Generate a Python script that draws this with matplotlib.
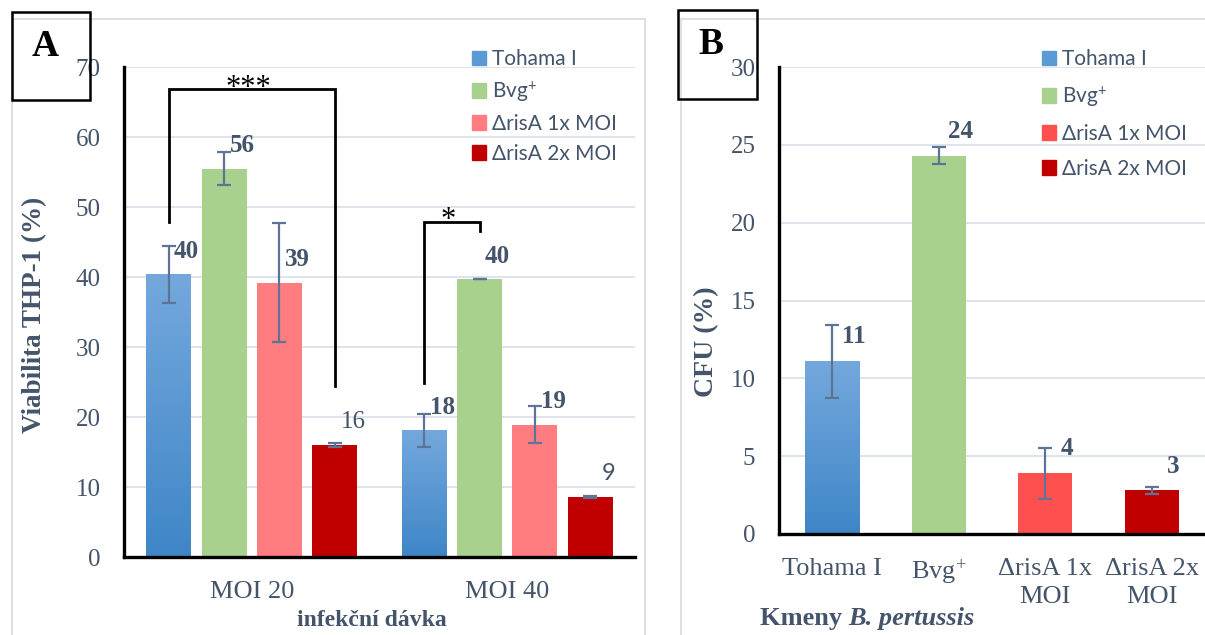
import numpy as np
import matplotlib
matplotlib.use("Agg")
import matplotlib.pyplot as plt
from matplotlib.patches import Rectangle, Patch
from matplotlib.colors import LinearSegmentedColormap

# --- data -------------------------------------------------------------
series = ["Tohama I", r"$\mathregular{Bvg^{+}}$", "ΔrisA 1x MOI", "ΔrisA 2x MOI"]
doses = ["MOI 20", "MOI 40"]
viab = [[40.4, 18.1], [55.5, 39.7], [39.2, 18.9], [16.0, 8.6]]
viab_err = [[4.05, 2.35], [2.4, 0.05], [8.5, 2.65], [0.3, 0.1]]
viab_labels = [["40", "18"], ["56", "40"], ["39", "19"], ["16", "9"]]

strains = ["Tohama I", r"$\mathregular{Bvg^{+}}$", "ΔrisA 1x\nMOI", "ΔrisA 2x\nMOI"]
cfu = [11.1, 24.3, 3.9, 2.8]
cfu_err = [2.35, 0.55, 1.65, 0.2]
cfu_labels = ["11", "24", "4", "3"]

# significance brackets: (group, series_a, series_b, top, bottom_a, bottom_b, text)
brackets = [(0, 0, 3, 66.8, 47.9, 24.4, "***"),
            (1, 0, 1, 47.9, 24.9, 46.6, "*")]

# --- style ------------------------------------------------------------
W, H = 1205, 635
txt_col = "#44546A"
err_col = "#5E7497"
grid_col = "#DCE1E9"
colors_a = ["#5B9BD5", "#A9D18E", "#FF7C80", "#C00000"]
colors_b = ["#5B9BD5", "#A9D18E", "#FF5050", "#C00000"]
blue_grad = LinearSegmentedColormap.from_list("bg", ["#3F86C7", "#74A8DD"])
serif = ["Liberation Serif", "DejaVu Serif"]
sans = ["Lato", "DejaVu Sans"]
plt.rcParams["mathtext.fontset"] = "custom"
plt.rcParams["mathtext.rm"] = "Liberation Serif"


def px(x, y):
    return x / W, 1 - y / H


fig = plt.figure(figsize=(W / 100, H / 100), dpi=100)

# panel frames
fig.add_artist(Rectangle(px(12, 640), 633 / W, 621 / H, transform=fig.transFigure,
                         fill=False, ec="#D9DDE3", lw=1.3))
fig.add_artist(Rectangle(px(681, 640), 540 / W, 621 / H, transform=fig.transFigure,
                         fill=False, ec="#D9DDE3", lw=1.3))


def style_axes(ax, ymax, step):
    ax.set_ylim(0, ymax)
    ax.set_yticks(np.arange(0, ymax + 0.1, step))
    ax.yaxis.grid(True, color=grid_col, lw=1.3)
    ax.set_axisbelow(True)
    for s in ["top", "right"]:
        ax.spines[s].set_visible(False)
    for s in ["left", "bottom"]:
        ax.spines[s].set_linewidth(2.4)
        ax.spines[s].set_color("black")
    ax.tick_params(length=0, labelcolor=txt_col)
    ax.tick_params(axis="y", pad=17, labelsize=18)
    ax.tick_params(axis="x", pad=17, labelsize=19)
    for lab in ax.get_xticklabels() + ax.get_yticklabels():
        lab.set_family(serif)


def gradient_bar(ax, bar):
    x0, y0 = bar.get_x(), bar.get_y()
    im = ax.imshow(np.linspace(0, 1, 100).reshape(-1, 1), cmap=blue_grad,
                   extent=(x0, x0 + bar.get_width(), y0, y0 + bar.get_height()),
                   origin="lower", aspect="auto", zorder=bar.get_zorder())
    im.set_clip_path(bar)


# --- panel A ----------------------------------------------------------
axA = fig.add_axes([124 / W, 1 - 557 / H, 511 / W, 490 / H])
step, width = 0.217, 0.176
xg = np.arange(len(doses))
handles = []
for i, name in enumerate(series):
    xs = xg + (i - 1.5) * step
    bars = axA.bar(xs, viab[i], width, color=colors_a[i], zorder=2)
    axA.errorbar(xs, viab[i], yerr=viab_err[i], fmt="none", ecolor=err_col,
                 elinewidth=1.6, capsize=5, capthick=1.6, zorder=3)
    if i == 0:
        for b in bars:
            gradient_bar(axA, b)
    for j, (x, v) in enumerate(zip(xs, viab[i])):
        lab = viab_labels[i][j]
        if lab == "9":
            fam, wt, fs = sans, "normal", 17
        elif lab == "16":
            fam, wt, fs = serif, "normal", 18
        else:
            fam, wt, fs = serif, "bold", 18
        axA.annotate(lab, (x, v), xytext=(13, 16.5), textcoords="offset points",
                     ha="center", va="center", family=fam, weight=wt,
                     fontsize=fs, color=txt_col)
    handles.append(Patch(color=colors_a[i], label=name))
axA.set_xlim(-0.5, 1.5)
axA.set_xticks(xg, doses)
style_axes(axA, 70, 10)

for g, a, b, top, ba, bb, t in brackets:
    xa = g + (a - 1.5) * step
    xb = g + (b - 1.5) * step
    axA.plot([xa, xa, xb, xb], [ba, top, top, bb], color="black", lw=2,
             solid_joinstyle="miter", zorder=4, clip_on=False)
    axA.text((xa + xb) / 2 - 0.015, top - 0.9, t, ha="center", va="baseline",
             family=serif, fontsize=22, color="black")

axA.legend(handles=handles, loc="upper left", bbox_to_anchor=px(472, 49),
           bbox_transform=fig.transFigure, frameon=False, borderpad=0,
           borderaxespad=0, handlelength=0.68, handleheight=0.68,
           handletextpad=0.3, labelspacing=0.48, labelcolor=txt_col,
           prop={"family": sans, "size": 15})

fig.text(*px(35, 315), "Viabilita THP-1 (%)", rotation=90, ha="center",
         va="center", family=serif, weight="bold", fontsize=19.5, color=txt_col)
fig.text(*px(372, 620), "infekční dávka", ha="center", va="center",
         family=serif, weight="bold", fontsize=17, color=txt_col)

# --- panel B ----------------------------------------------------------
axB = fig.add_axes([779 / W, 1 - 534 / H, 426 / W, 467 / H])
xb = np.arange(len(strains))
bars = axB.bar(xb, cfu, 0.51, color=colors_b, zorder=2)
gradient_bar(axB, bars[0])
axB.errorbar(xb, cfu, yerr=cfu_err, fmt="none", ecolor=err_col,
             elinewidth=1.6, capsize=5, capthick=1.6, zorder=3)
for x, v, lab in zip(xb, cfu, cfu_labels):
    axB.annotate(lab, (x, v), xytext=(15.5, 17.5), textcoords="offset points",
                 ha="center", va="center", family=serif, weight="bold",
                 fontsize=18, color=txt_col)
axB.set_xlim(-0.5, 3.5)
axB.set_xticks(xb, strains)
style_axes(axB, 30, 5)
for lab in axB.get_xticklabels():
    lab.set_linespacing(1.35)

axB.legend(handles=[Patch(color=c, label=n) for c, n in zip(colors_b, series)],
           loc="upper left", bbox_to_anchor=px(1042, 49),
           bbox_transform=fig.transFigure, frameon=False, borderpad=0,
           borderaxespad=0, handlelength=0.68, handleheight=0.68,
           handletextpad=0.3, labelspacing=0.72, labelcolor=txt_col,
           prop={"family": sans, "size": 15})

fig.text(*px(707, 342), "CFU (%)", rotation=90, ha="center", va="center",
         family=serif, weight="bold", fontsize=20, color=txt_col)
k = fig.text(*px(760, 618), "Kmeny ", ha="left", va="center",
             family=serif, weight="bold", fontsize=19, color=txt_col)
axB.annotate("B. pertussis", xy=(1, 0), xycoords=k, ha="left", va="bottom",
             family=serif, weight="bold", style="italic", fontsize=19,
             color=txt_col, annotation_clip=False)

# panel letters
for (x0, y0, x1, y1), (tx, ty), letter in [((12, 12, 90, 100), (45, 46), "A"),
                                          ((678, 10, 757, 99), (711, 44), "B")]:
    fig.add_artist(Rectangle(px(x0, y1), (x1 - x0) / W, (y1 - y0) / H,
                             transform=fig.transFigure, fill=False,
                             ec="black", lw=1.8))
    fig.text(*px(tx, ty), letter, ha="center", va="center", family=serif,
             weight="bold", fontsize=27, color="black")

fig.savefig("out.png", dpi=100)
